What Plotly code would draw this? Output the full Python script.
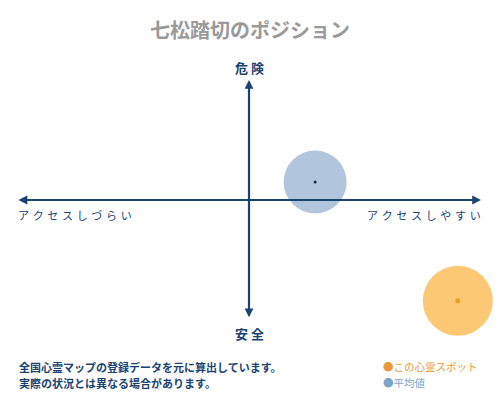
import plotly.graph_objects as go

# Data
spot_names = ["平均値", "この心霊スポット"]
spot_x = [2.85, 9.0]      # access: negative = hard, positive = easy
spot_y = [1.5, -8.4]      # danger: positive = dangerous, negative = safe
spot_fill = ["rgba(120,155,195,0.58)", "rgba(253,190,90,0.85)"]
spot_dot = ["#1a2a40", "#e8a020"]
spot_size = [63, 70]

title_text = "七松踏切のポジション"
axis_top, axis_bottom = "危 険", "安 全"
axis_left, axis_right = "アクセスしづらい", "アクセスしやすい"
note_lines = ["全国心霊マップの登録データを元に算出しています。",
              "実際の状況とは異なる場合があります。"]

NAVY = "#1b4371"
FONT = "Noto Sans CJK JP"


def spaced(s):
    return "\u2004".join(s)


fig = go.Figure()

# bubbles
for i in range(len(spot_names)):
    fig.add_trace(go.Scatter(
        x=[spot_x[i]], y=[spot_y[i]], mode="markers",
        marker=dict(size=spot_size[i], color=spot_fill[i], line=dict(width=0)),
        hoverinfo="skip", showlegend=False))
    fig.add_trace(go.Scatter(
        x=[spot_x[i]], y=[spot_y[i]], mode="markers",
        marker=dict(size=3 if i == 0 else 5, color=spot_dot[i]),
        name=spot_names[i], showlegend=False))

annotations = []
# axis arrows
annotations.append(dict(x=10, y=0, ax=-10, ay=0, xref="x", yref="y", axref="x", ayref="y",
                        text="", showarrow=True, arrowhead=2, startarrowhead=2,
                        arrowside="end+start", arrowwidth=2.2, arrowsize=0.8, arrowcolor=NAVY))
annotations.append(dict(x=0, y=10, ax=0, ay=-9.9, xref="x", yref="y", axref="x", ayref="y",
                        text="", showarrow=True, arrowhead=2, startarrowhead=2,
                        arrowside="end+start", arrowwidth=2.2, arrowsize=0.8, arrowcolor=NAVY))

# axis labels
annotations += [
    dict(x=0.498, y=0.832, text="<b>" + axis_top + "</b>", xanchor="center",
         font=dict(size=13, color=NAVY, family=FONT)),
    dict(x=0.498, y=0.166, text="<b>" + axis_bottom + "</b>", xanchor="center",
         font=dict(size=13, color=NAVY, family=FONT)),
    dict(x=0.032, y=0.462, xanchor="left", text=spaced(axis_left),
         font=dict(size=11, color=NAVY, family=FONT)),
    dict(x=0.966, y=0.462, xanchor="right", text=spaced(axis_right),
         font=dict(size=11, color=NAVY, family=FONT)),
]

# title
annotations.append(dict(x=0.5, y=0.925, xanchor="center", text="<b>" + title_text + "</b>",
                        font=dict(size=20, color="#9a9a9a", family=FONT)))

# footnote
for k, line in enumerate(note_lines):
    annotations.append(dict(x=0.034, y=0.083 - k * 0.04, xanchor="left",
                            text="<b>" + line + "</b>",
                            font=dict(size=11, color=NAVY, family=FONT)))

# legend (manual)
legend_colors = ["#e89a3a", "#7fa3c7"]
legend_names = [spot_names[1], spot_names[0]]
for k in range(2):
    annotations.append(dict(x=0.762, y=0.083 - k * 0.04, xanchor="left",
                            text="<span style='color:%s'>●</span>%s" % (legend_colors[k], legend_names[k]),
                            font=dict(size=10.5, color=legend_colors[k], family=FONT)))

for a in annotations:
    a.setdefault("xref", "paper")
    a.setdefault("yref", "paper")
    a.setdefault("showarrow", False)
    if not a["showarrow"]:
        a["yanchor"] = "middle"

fig.update_layout(
    width=500, height=400,
    margin=dict(l=0, r=0, t=0, b=0),
    paper_bgcolor="white", plot_bgcolor="white",
    xaxis=dict(range=[-249 / 23.2, 251 / 23.2], visible=False, fixedrange=True),
    yaxis=dict(range=[-200 / 12, 200 / 12], visible=False, fixedrange=True),
    annotations=annotations,
    showlegend=False,
)

fig.write_html("out.html", config={"displayModeBar": False},
               post_script="document.body.style.margin='0';")
